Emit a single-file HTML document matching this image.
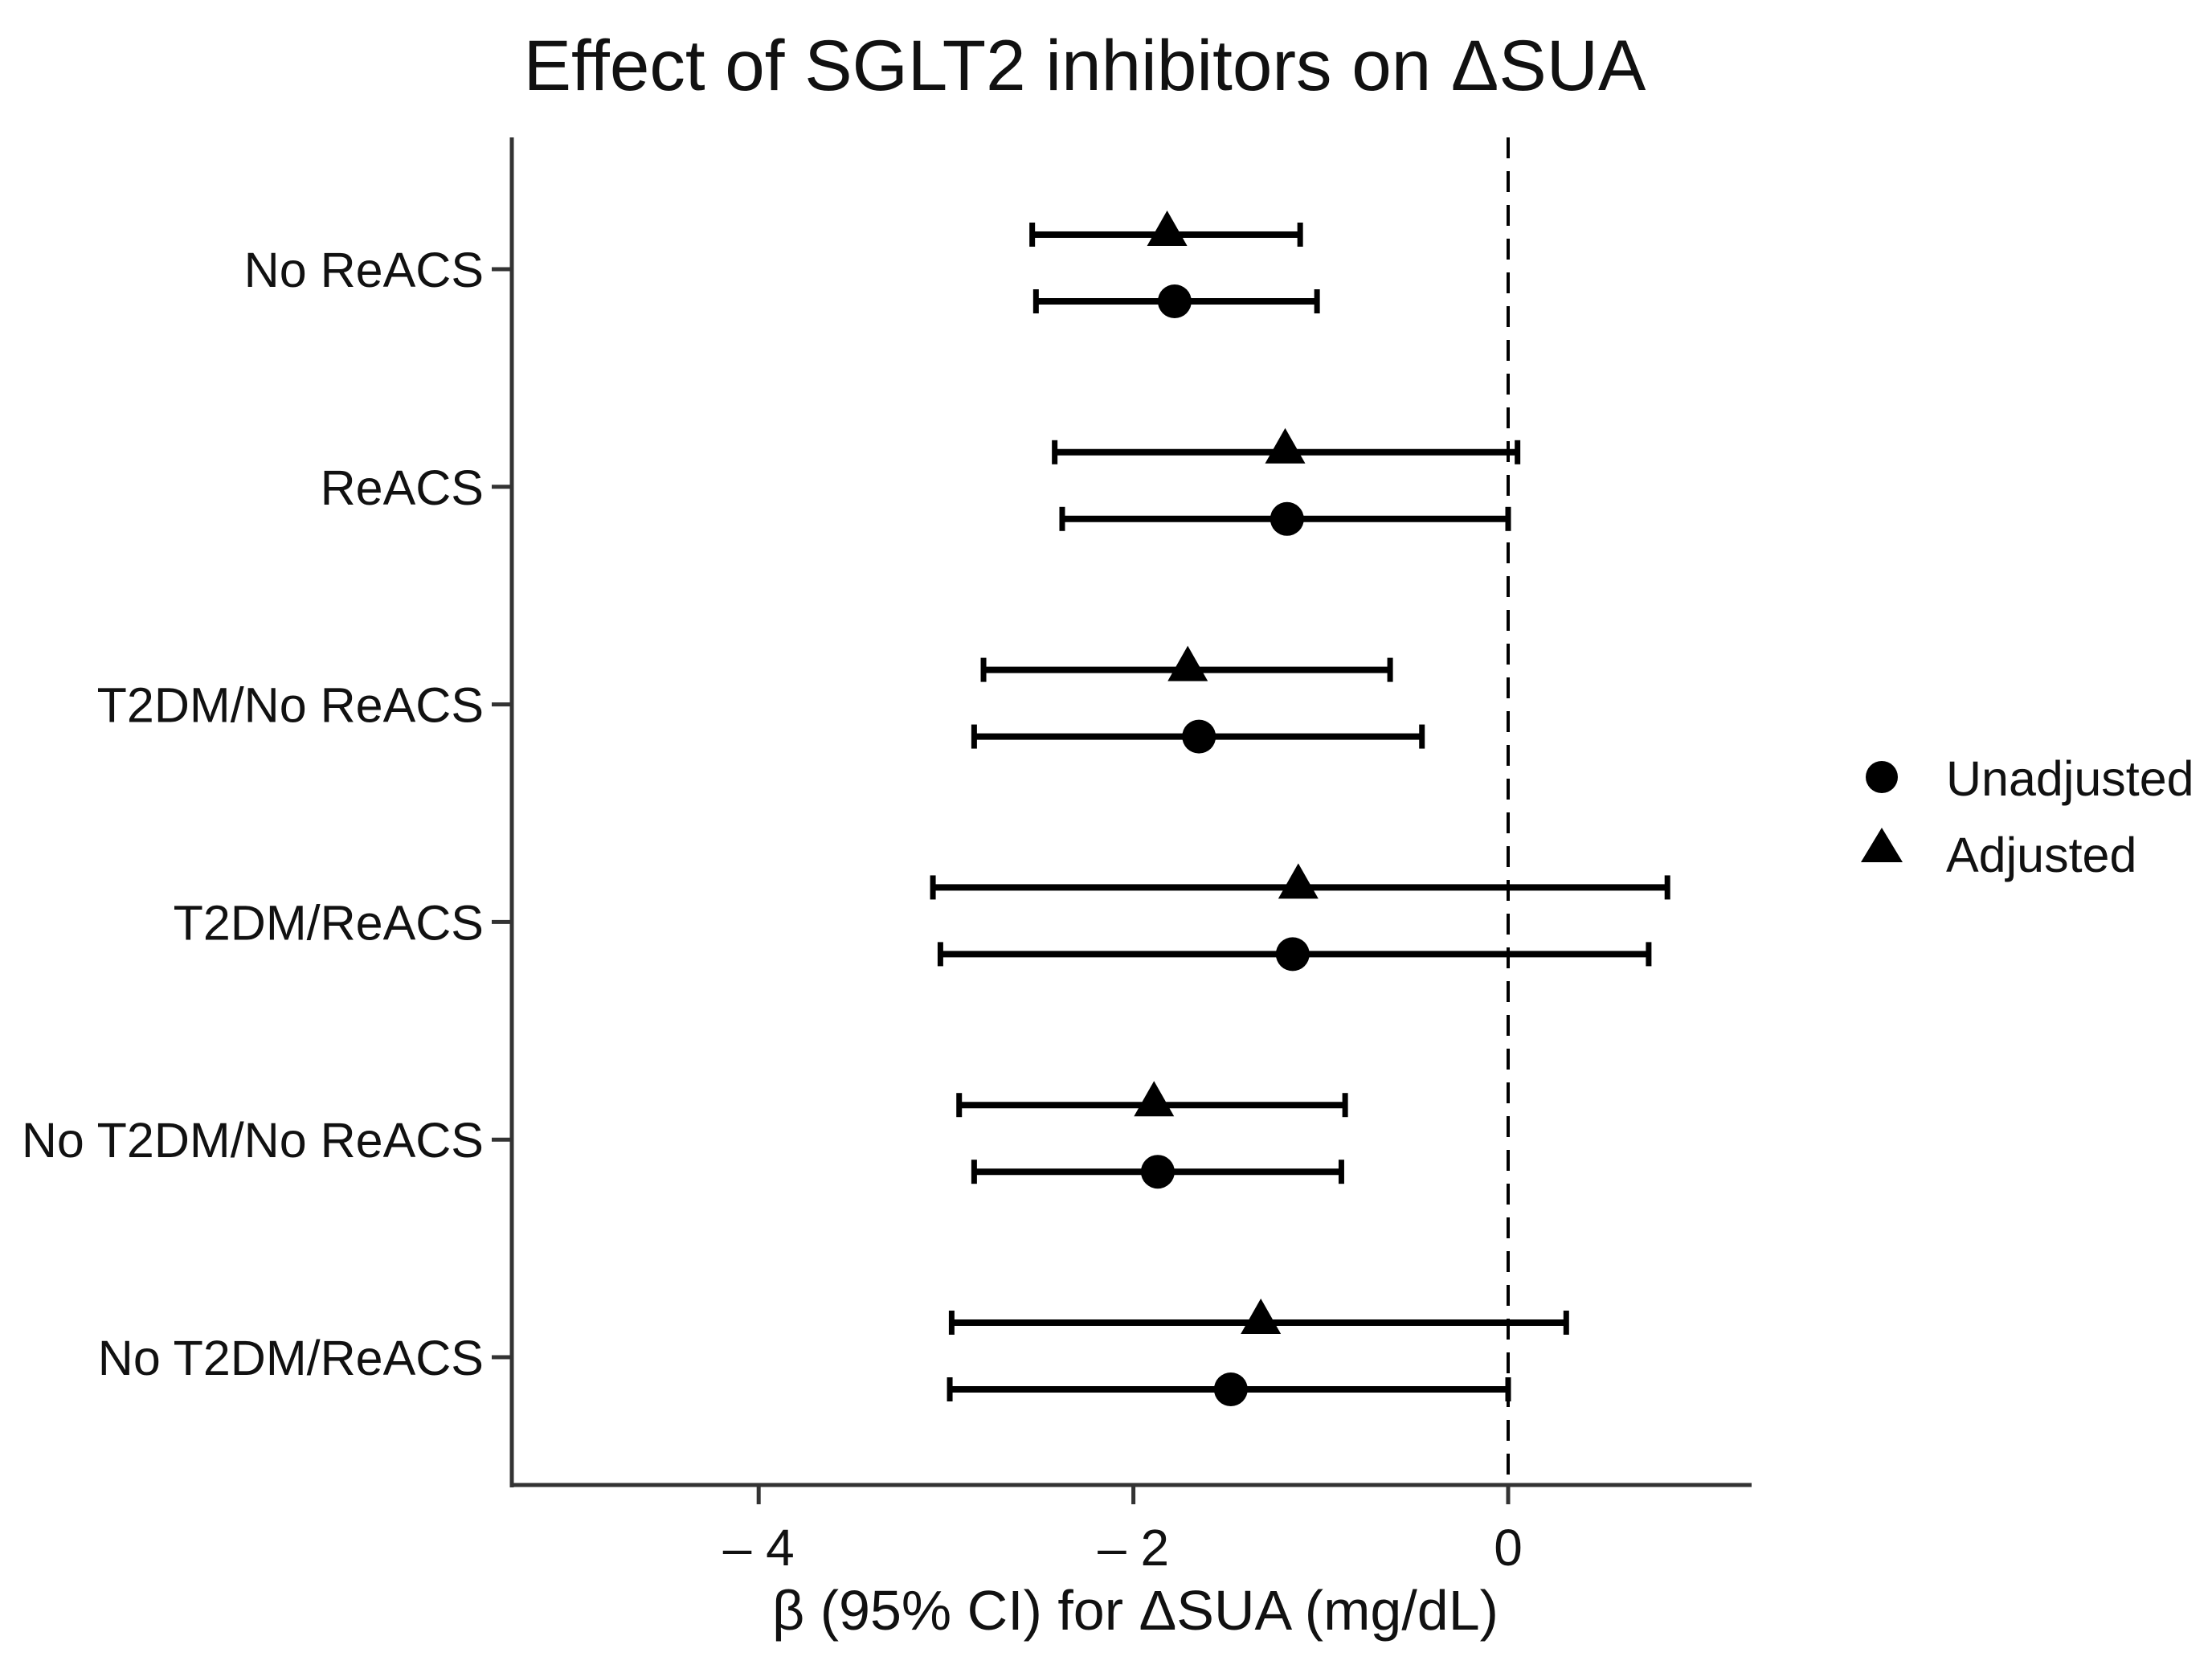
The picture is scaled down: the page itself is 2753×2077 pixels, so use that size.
<!DOCTYPE html>
<html><head><meta charset="utf-8"><style>html,body{margin:0;padding:0;background:#fff}svg{display:block}text{font-family:"Liberation Sans",sans-serif;fill:#111}</style></head>
<body>
<svg id="chart" width="2753" height="2077" viewBox="0 0 2753 2077" xmlns="http://www.w3.org/2000/svg">
<rect width="2753" height="2077" fill="#fff"/>
<text x="1350" y="112" font-size="89" text-anchor="middle">Effect of SGLT2 inhibitors on ΔSUA</text>
<text x="1413" y="2028" font-size="70" text-anchor="middle">β (95% CI) for ΔSUA (mg/dL)</text>
<g id="plot"></g>
<g>
<circle cx="2342" cy="967" r="20" fill="#000"/>
<text x="2422" y="990" font-size="61">Unadjusted</text>
<polygon points="2342,1030 2368,1073 2316,1073" fill="#000"/>
<text x="2422" y="1085" font-size="61">Adjusted</text>
</g>
</svg>
<script>
const categories = ["No ReACS","ReACS","T2DM/No ReACS","T2DM/ReACS","No T2DM/No ReACS","No T2DM/ReACS"];
const adjEst = [-1.82,-1.19,-1.71,-1.12,-1.89,-1.32];
const adjLo  = [-2.54,-2.42,-2.80,-3.07,-2.93,-2.97];
const adjHi  = [-1.11,0.05,-0.63,0.85,-0.87,0.31];
const unEst  = [-1.78,-1.18,-1.65,-1.15,-1.87,-1.48];
const unLo   = [-2.52,-2.38,-2.85,-3.03,-2.85,-2.98];
const unHi   = [-1.02,0.00,-0.46,0.75,-0.89,0.00];
const xTicks = [-4,-2,0];
const xTickLabels = ["\u2013 4","\u2013 2","0"];

const NS="http://www.w3.org/2000/svg";
const g=document.getElementById('plot');
const L=637,R=2180,T=171,B=1848;
const X0=1877, PU=233.2;
function xs(v){return X0+v*PU;}
function ys(i){return 335+i*270.8;}
function el(tag,a){const e=document.createElementNS(NS,tag);for(const k in a)e.setAttribute(k,a[k]);g.appendChild(e);return e;}

let e=el('line',{x1:xs(0),x2:xs(0),y1:T,y2:B,stroke:'#000','stroke-width':4,'stroke-dasharray':'26,16'});



categories.forEach((c,i)=>{
  const y=ys(i);
  let t=el('text',{x:602,y:y+22,'font-size':61,'text-anchor':'end'});t.textContent=c;
  
  
  let tk=el('line',{x1:612,x2:L,y1:y,y2:y,stroke:'#333','stroke-width':5});
  
  
  [[adjEst,adjLo,adjHi,-43,'adjusted'],[unEst,unLo,unHi,40,'unadjusted']].forEach(([E,Lo,Hi,off,nm])=>{
    const yy=y+off;
    let l=el('line',{x1:xs(Lo[i]),x2:xs(Hi[i]),y1:yy,y2:yy,stroke:'#000','stroke-width':8});
    
    
    [Lo[i],Hi[i]].forEach(v=>{
      let cp=el('line',{x1:xs(v),x2:xs(v),y1:yy-15,y2:yy+15,stroke:'#000','stroke-width':7});
      
      
    });
    let m;
    const cx=xs(E[i]);
    if(nm==='adjusted'){m=el('polygon',{points:`${cx},${yy-30} ${cx+25},${yy+14} ${cx-25},${yy+14}`,fill:'#000'});}
    else{m=el('circle',{cx:cx,cy:yy,r:21,fill:'#000'});}
    
    
  });
});

e=el('line',{x1:L,x2:L,y1:T,y2:B+3,stroke:'#333','stroke-width':5});


e=el('line',{x1:L-2,x2:R,y1:B,y2:B,stroke:'#333','stroke-width':5});


xTicks.forEach((v,i)=>{
  let tk=el('line',{x1:xs(v),x2:xs(v),y1:B,y2:B+24,stroke:'#333','stroke-width':5});
  
  
  let t=el('text',{x:xs(v),y:B+100,'font-size':64,'text-anchor':'middle'});t.textContent=xTickLabels[i];
  
  
});
</script>
</body></html>
